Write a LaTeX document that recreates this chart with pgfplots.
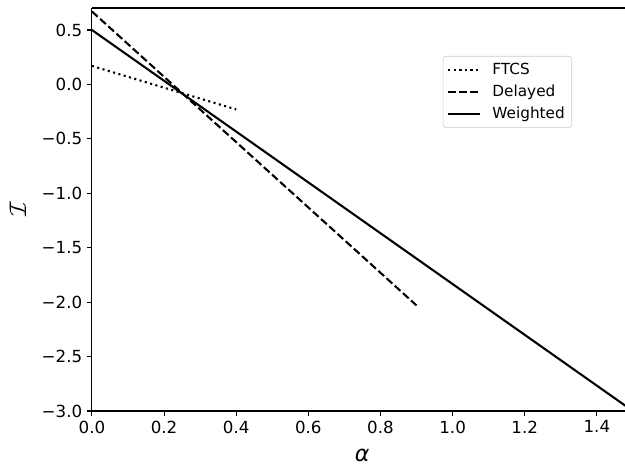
\documentclass[border=0pt]{standalone}
\usepackage{pgfplots}
\pgfplotsset{compat=1.18}
\usepackage{fontspec}
\setmainfont{DejaVu Sans}
\begin{document}
\begin{tikzpicture}
\begin{axis}[
  name=ax,
  scale only axis,
  width=383.8pt, height=290.2pt,
  xmin=0, xmax=1.478, ymin=-3.0, ymax=0.702,
  axis x line*=bottom, axis y line*=left,
  axis line style={line width=0.8pt, black, -},
  xtick={0,0.2,0.4,0.6,0.8,1.0,1.2,1.4},
  xticklabels={0.0,0.2,0.4,0.6,0.8,1.0,1.2,1.4},
  ytick={-3,-2.5,-2,-1.5,-1,-0.5,0,0.5},
  yticklabels={−3.0,−2.5,−2.0,−1.5,−1.0,−0.5,0.0,0.5},
  tick align=outside,
  major tick length=3.5pt,
  every tick/.style={line width=0.8pt, black},
  ticklabel style={font=\fontsize{12}{14}\selectfont},
  xlabel={\itshape α}, ylabel={$\mathcal{I}$},
  label style={font=\fontsize{16}{18}\selectfont},
  xlabel style={at={(axis description cs:0.507,0)}, anchor=center, yshift=-31.7pt},
  ylabel style={at={(axis description cs:0,0.5)}, anchor=center, rotate=0, xshift=0pt, yshift=53.3pt},
  legend style={at={(0.9006,0.881)}, anchor=north east, draw=black!20, rounded corners=2pt,
    font=\fontsize{11}{13}\selectfont, inner xsep=3pt, inner ysep=3pt, row sep=2pt,
    /tikz/every odd column/.style={column sep=6pt}},
  legend cell align=left,
  legend image code/.code={\draw[#1] (0pt,0pt) -- (23pt,0pt);},
  clip=true,
]
\draw[line width=0.8pt] (rel axis cs:0,1) -- (rel axis cs:1,1);
\addplot[black, line width=1.5pt, dash pattern=on 1.5pt off 2.475pt] coordinates {(0,0.17) (0.4,-0.23)};
\addlegendentry{FTCS}
\addplot[black, line width=1.5pt, dash pattern=on 5.55pt off 2.4pt] coordinates {(0,0.67) (0.9,-2.03)};
\addlegendentry{Delayed}
\addplot[black, line width=1.5pt] coordinates {(0,0.5) (1.5,-3.0)};
\addlegendentry{Weighted}
\end{axis}
\pgfresetboundingbox
\path ([xshift=-66.2pt,yshift=-38.9pt]ax.south west) rectangle ([yshift=5.76pt]ax.north east);
\end{tikzpicture}
\end{document}
